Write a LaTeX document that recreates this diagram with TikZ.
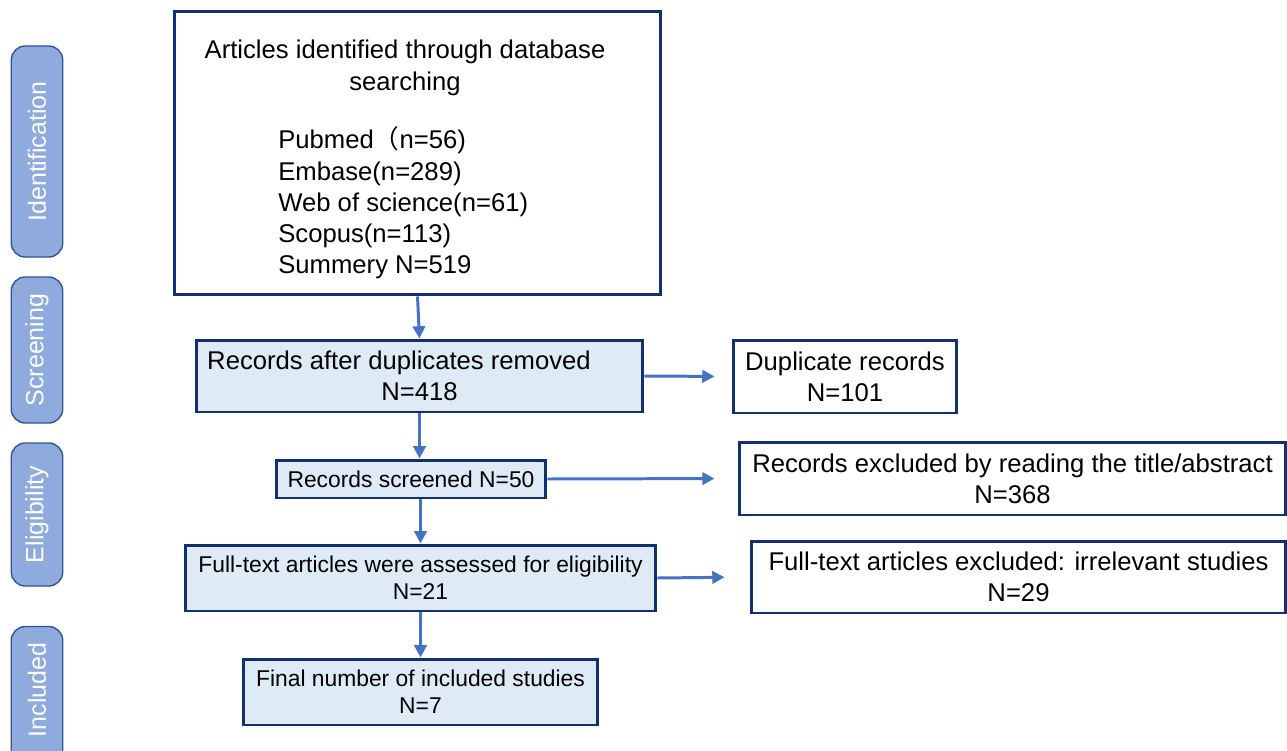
\documentclass[tikz,border=0pt]{standalone}
\usepackage{fontspec}
\setmainfont{Liberation Sans}
\newfontfamily\cjk{Noto Sans CJK SC}
\usepackage{tikz}
\usetikzlibrary{arrows.meta}

\definecolor{boxnavy}{HTML}{13306E}
\definecolor{boxfill}{HTML}{DEEBF7}
\definecolor{arrowblue}{HTML}{4472C4}
\definecolor{stagefill}{HTML}{8FAADC}
\definecolor{stageline}{HTML}{2F5597}

\begin{document}
\begin{tikzpicture}[x=0.02cm, y=-0.02cm,
  bigfont/.style={font=\fontsize{14.6pt}{17.8pt}\selectfont},
  smallfont/.style={font=\fontsize{13pt}{15.4pt}\selectfont},
  flowbox/.style={draw=boxnavy, line width=1.7pt, fill=boxfill, align=center, inner sep=0pt},
  sidebox/.style={draw=boxnavy, line width=1.7pt, fill=white, align=center, inner sep=0pt, bigfont},
  stage/.style={draw=stageline, fill=stagefill, line width=0.8pt, rounded corners=8pt,
    inner sep=0pt, text=white, rotate=90, font=\fontsize{14.2pt}{17pt}\selectfont},
  flow/.style={draw=arrowblue, line width=1.7pt, -{Triangle[width=7pt,length=7pt]}}]
  \useasboundingbox (0,0) rectangle (1287,750);

  % stage labels on the left (Included runs off the bottom edge)
  \foreach \name/\y/\h/\lbl in {ident/151.5/211/Identification, screen/350/146/Screening,
                                elig/514.5/143/Eligibility, incl/698/143/\hspace*{0.32cm}Included} {
    \node[stage, minimum width=\h*0.02cm, minimum height=1.03cm] (stage\name) at (37,\y) {\lbl};
  }

  % database search box
  \node[draw=boxnavy, line width=1.7pt, minimum width=9.74cm, minimum height=5.68cm] (src) at (417.5,153) {};
  \node[bigfont, align=center] (srctitle) at (405,68) {Articles identified through database\\searching};
  \node[bigfont, align=left, anchor=west, inner sep=0pt] (srclist) at (278,203)
    {Pubmed{\cjk （}n=56)\\Embase(n=289)\\Web of science(n=61)\\Scopus(n=113)\\Summery N=519};

  % main column
  \node[flowbox, bigfont, minimum width=8.94cm, minimum height=1.44cm] (dedup) at (419.5,376)
    {Records after duplicates removed\hspace*{0.82cm}\\N=418};
  \node[flowbox, smallfont, minimum width=5.4cm, minimum height=0.76cm] (screened) at (411,479)
    {Records screened N=50};
  \node[flowbox, smallfont, minimum width=9.42cm, minimum height=1.32cm] (full) at (420.5,578)
    {Full-text articles were assessed for eligibility\\N=21};
  \node[flowbox, smallfont, minimum width=7.1cm, minimum height=1.32cm] (final) at (420.5,692)
    {Final number of included studies\\N=7};

  % exclusions on the right
  \node[sidebox, minimum width=4.48cm, minimum height=1.46cm] (dup) at (845,376.5)
    {Duplicate records\\N=101};
  \node[sidebox, minimum width=10.94cm, minimum height=1.46cm] (excl) at (1012.5,478.5)
    {Records excluded by reading the title/abstract\\N=368};
  \node[sidebox, minimum width=10.7cm, minimum height=1.44cm] (fexcl) at (1018.5,577)
    {Full-text articles excluded: irrelevant studies\\N=29};

  % arrows
  \draw[flow] (src.south) -- (dedup.north);
  \draw[flow] (dedup.south) -- (dedup.south |- screened.north);
  \draw[flow] (full.north |- screened.south) -- (full.north);
  \draw[flow] (full.south) -- (final.north);
  \draw[flow, shorten >=0.34cm] (dedup.east) -- (dup.west);
  \draw[flow, shorten >=0.46cm] (screened.east) -- (excl.west);
  \draw[flow, shorten >=0.5cm] (full.east) -- (fexcl.west);
\end{tikzpicture}
\end{document}
